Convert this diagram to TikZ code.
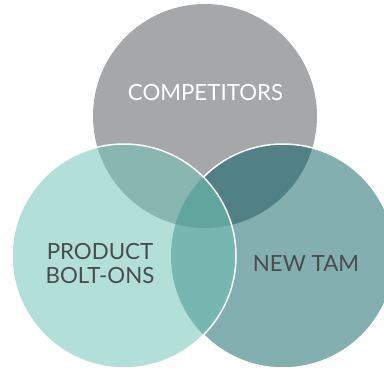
\documentclass[tikz,border=0pt]{standalone}
\usepackage{fontspec}
\setmainfont{Lato}

\definecolor{compgray}{HTML}{A6A7A9}
\definecolor{boltteal}{HTML}{B2E0D9}
\definecolor{tamteal}{HTML}{83AFB1}
\definecolor{compbolt}{HTML}{88B6B0}
\definecolor{comptam}{HTML}{528185}
\definecolor{bolttam}{HTML}{76B8B1}
\definecolor{allthree}{HTML}{62A59C}
\definecolor{labelgray}{HTML}{4A4B4D}

\tikzset{
    rim/.style={draw=white, line width=1.5pt},
    biglabel/.style={font=\fontsize{22.3}{24}\selectfont, align=center, inner sep=0pt},
}

\begin{document}
\begin{tikzpicture}[x=1pt,y=-1pt]
    \useasboundingbox (0,0) rectangle (384,370);
    \coordinate (comp) at (205,116);
    \coordinate (bolt) at (124,256);
    \coordinate (tam) at (283,256);
    % plain discs
    \fill[compgray] (comp) circle (112pt);
    \fill[tamteal] (tam) circle (112pt);
    \fill[boltteal] (bolt) circle (112pt);
    % pairwise overlaps
    \begin{scope}
        \clip (comp) circle (112pt);
        \fill[compbolt] (bolt) circle (112pt);
        \fill[comptam] (tam) circle (112pt);
    \end{scope}
    \begin{scope}
        \clip (bolt) circle (112pt);
        \fill[bolttam] (tam) circle (112pt);
        \clip (tam) circle (112pt);
        \fill[allthree] (comp) circle (112pt);
    \end{scope}
    % white rims, the one of tam hidden under bolt
    \begin{scope}[even odd rule]
        \clip (-20,-20) rectangle (420,400) (bolt) circle (112pt);
        \draw[rim] (tam) circle (112pt);
    \end{scope}
    \draw[rim] (bolt) circle (112pt);
    % labels
    \node[biglabel, text=white] (complabel) at (205.5,93) {COMPETITORS};
    \node[biglabel, text=labelgray] (boltlabel) at (100,263.5) {PRODUCT\\BOLT-ONS};
    \node[biglabel, text=labelgray] (tamlabel) at (306,264) {NEW TAM};
\end{tikzpicture}
\end{document}
